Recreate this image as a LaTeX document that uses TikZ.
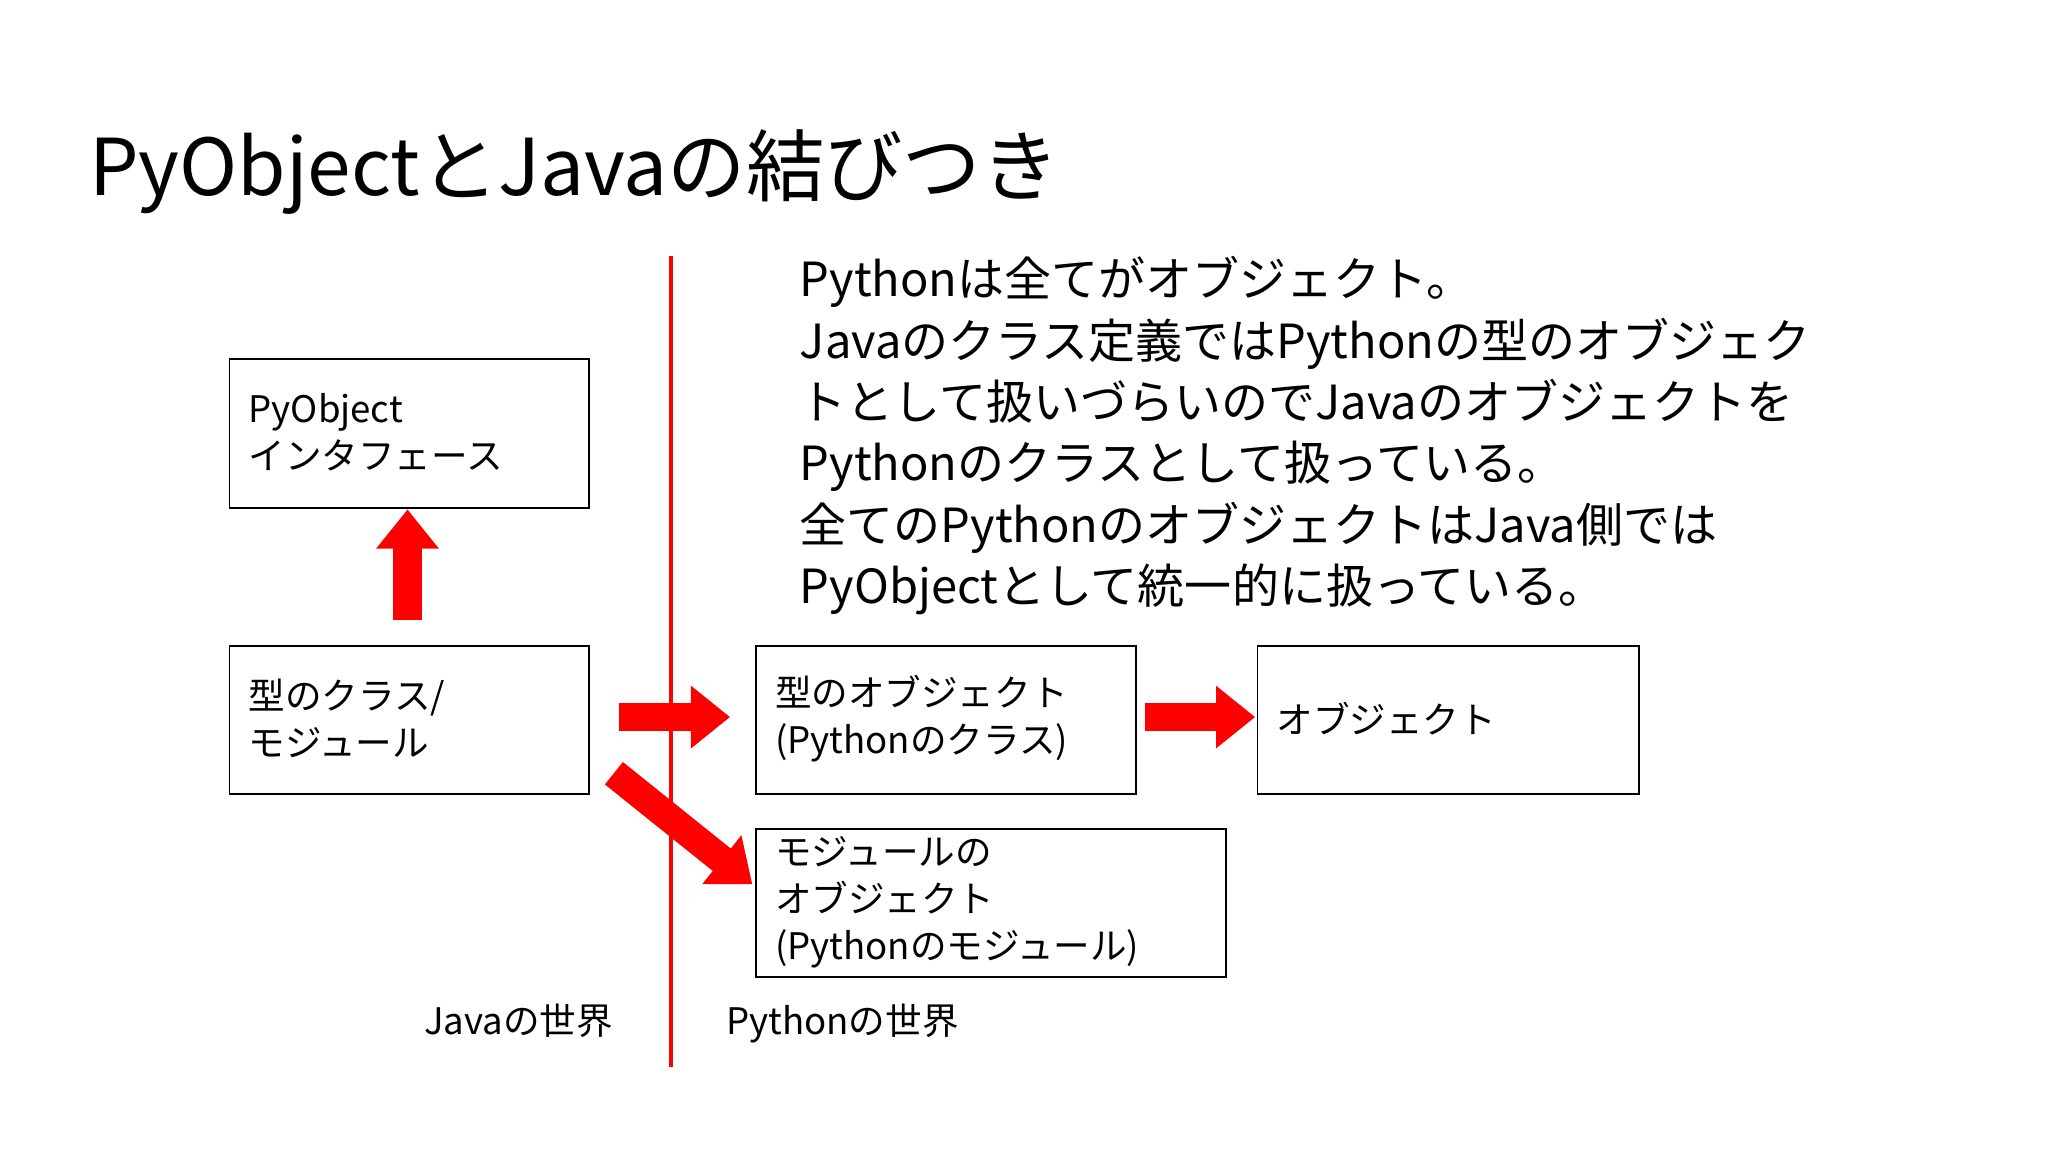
\documentclass[tikz,border=0pt]{standalone}
\usepackage{fontspec}
\setmainfont{Noto Sans CJK JP}
\usetikzlibrary{arrows.meta}
\tikzset{
 box/.style={draw,line width=0.7pt,anchor=north west,inner sep=0pt},
 btxt/.style={anchor=west,align=left,font=\fontsize{14}{18}\selectfont,inner sep=0pt},
 bigarrow/.style={draw=red,line width=11pt,-{Triangle[length=15pt,width=23pt]}},
}
\begin{document}
\begin{tikzpicture}[x=0.5pt,y=-0.5pt]
\useasboundingbox[fill=white] (0,0) rectangle (1568,882);
\node[anchor=base west,inner sep=0pt,font=\fontsize{30}{36}\selectfont] (title) at (68,150) {PyObjectとJavaの結びつき};
\coordinate (lt) at (514,196); \coordinate (lb) at (514,817);
\draw[red,line width=1.5pt] (lt) -- (lb);
\node[anchor=north west,align=left,inner sep=0pt,font=\fontsize{18}{23.5}\selectfont] (para) at (612,196) {Pythonは全てがオブジェクト。\\Javaのクラス定義ではPythonの型のオブジェク\\トとして扱いづらいのでJavaのオブジェクトを\\Pythonのクラスとして扱っている。\\全てのPythonのオブジェクトはJava側では\\PyObjectとして統一的に扱っている。};
\node[box,minimum width=137.5pt,minimum height=57pt] (b1) at (175,274) {};
\node[btxt] (t1) at (190,331) {PyObject\\インタフェース};
\node[box,minimum width=137.5pt,minimum height=56.5pt] (b2) at (175,494) {};
\node[btxt] (t2) at (190,550) {型のクラス/\\モジュール};
\node[box,minimum width=145.5pt,minimum height=56.5pt] (b3) at (578,494) {};
\node[btxt] (t3) at (593,550) {型のオブジェクト\\(Pythonのクラス)};
\node[box,minimum width=146pt,minimum height=56.5pt] (b4) at (962,494) {};
\node[btxt] (t4) at (977,550) {オブジェクト};
\node[box,minimum width=180pt,minimum height=56.5pt] (b5) at (578,634) {};
\node[btxt] (t5) at (593,691) {モジュールの\\オブジェクト\\(Pythonのモジュール)};
\node[anchor=base,inner sep=0pt,font=\fontsize{14}{18}\selectfont] (jw) at (397,792) {Javaの世界};
\node[anchor=base,inner sep=0pt,font=\fontsize{14}{18}\selectfont] (pw) at (645,792) {Pythonの世界};
\coordinate (a1s) at (312,475); \coordinate (a1e) at (312,390);
\coordinate (a2s) at (474,549); \coordinate (a2e) at (559,549);
\coordinate (a3s) at (877,549); \coordinate (a3e) at (961,549);
\coordinate (a4s) at (470,592); \coordinate (a4e) at (576,677);
\draw[bigarrow] (a1s) -- (a1e);
\draw[bigarrow] (a2s) -- (a2e);
\draw[bigarrow] (a3s) -- (a3e);
\draw[bigarrow] (a4s) -- (a4e);
\end{tikzpicture}
\end{document}
